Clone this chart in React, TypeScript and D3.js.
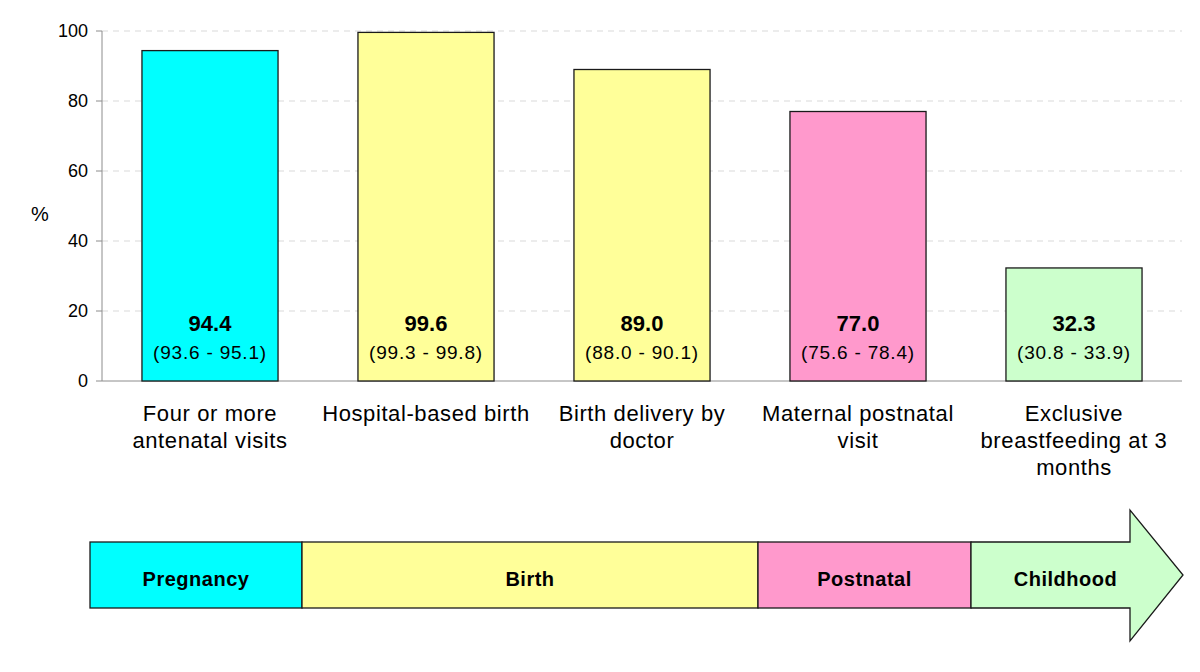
import React from "react";
import * as d3 from "d3";

const categories = [
  ["Four or more", "antenatal visits"],
  ["Hospital-based birth"],
  ["Birth delivery by", "doctor"],
  ["Maternal postnatal", "visit"],
  ["Exclusive", "breastfeeding at 3", "months"],
];
const values = [94.4, 99.6, 89.0, 77.0, 32.3];
const ciLow = [93.6, 99.3, 88.0, 75.6, 30.8];
const ciHigh = [95.1, 99.8, 90.1, 78.4, 33.9];
const barColors = ["#00FFFF", "#FFFF99", "#FFFF99", "#FF99CC", "#CCFFCC"];
const yTicks = [0, 20, 40, 60, 80, 100];
const phases = ["Pregnancy", "Birth", "Postnatal", "Childhood"];
const phaseColors = ["#00FFFF", "#FFFF99", "#FF99CC", "#CCFFCC"];
const phaseBounds = [90, 302, 758, 971, 1130];

const FONT = "'Liberation Sans', Arial, sans-serif";

export default function App() {
  const x = d3
    .scaleBand<number>()
    .domain(d3.range(values.length))
    .range([102, 1182])
    .paddingInner(0.37)
    .paddingOuter(0.185);
  const y = d3.scaleLinear().domain([0, 100]).range([381, 31]);
  const arrowTop = 542;
  const arrowBot = 608;
  const headTop = 510;
  const headBot = 641;
  const tipX = 1183;
  const midY = (arrowTop + arrowBot) / 2;

  const arrowPath = d3.path();
  arrowPath.moveTo(phaseBounds[3], arrowTop);
  arrowPath.lineTo(phaseBounds[4], arrowTop);
  arrowPath.lineTo(phaseBounds[4], headTop);
  arrowPath.lineTo(tipX, midY);
  arrowPath.lineTo(phaseBounds[4], headBot);
  arrowPath.lineTo(phaseBounds[4], arrowBot);
  arrowPath.lineTo(phaseBounds[3], arrowBot);
  arrowPath.closePath();

  return (
    <svg
      width={1200}
      height={672}
      style={{ position: "absolute", left: 0, top: 0, background: "#fff" }}
      fontFamily={FONT}
    >
      {/* gridlines */}
      {yTicks.filter((t) => t > 0).map((t) => (
        <line
          key={"g" + t}
          x1={102}
          x2={1182}
          y1={y(t)}
          y2={y(t)}
          stroke="#d9d9d9"
          strokeDasharray="6,5"
          strokeWidth={1}
        />
      ))}
      {/* axes */}
      <line x1={102} x2={102} y1={y(100)} y2={y(0)} stroke="#8c8c8c" strokeWidth={1} />
      <line x1={102} x2={1182} y1={y(0)} y2={y(0)} stroke="#8c8c8c" strokeWidth={1} />
      {yTicks.map((t) => (
        <g key={"t" + t}>
          <line x1={96} x2={102} y1={y(t)} y2={y(t)} stroke="#8c8c8c" />
          <text
            x={88}
            y={y(t)}
            textAnchor="end"
            dominantBaseline="central"
            fontSize={18}
            fill="#000"
          >
            {t}
          </text>
        </g>
      ))}
      <text x={40} y={214} textAnchor="middle" dominantBaseline="central" fontSize={20}>
        %
      </text>
      {/* bars */}
      {values.map((v, i) => {
        const bx = x(i)!;
        const bw = x.bandwidth();
        const cx = bx + bw / 2;
        return (
          <g key={"b" + i}>
            <rect
              x={bx}
              y={y(v)}
              width={bw}
              height={y(0) - y(v)}
              fill={barColors[i]}
              stroke="#1a1a1a"
              strokeWidth={1.3}
            />
            <text
              x={cx}
              y={323}
              textAnchor="middle"
              dominantBaseline="central"
              fontSize={22}
              fontWeight="bold"
            >
              {v.toFixed(1)}
            </text>
            <text
              x={cx}
              y={352}
              textAnchor="middle"
              dominantBaseline="central"
              fontSize={19}
              letterSpacing={0.8}
            >
              {`(${ciLow[i].toFixed(1)} - ${ciHigh[i].toFixed(1)})`}
            </text>
            {categories[i].map((line, j) => (
              <text
                key={j}
                x={cx}
                y={413 + j * 27}
                textAnchor="middle"
                dominantBaseline="central"
                fontSize={22}
                letterSpacing={0.6}
              >
                {line}
              </text>
            ))}
          </g>
        );
      })}
      {/* phase arrow */}
      {phases.slice(0, 3).map((p, i) => (
        <rect
          key={"p" + i}
          x={phaseBounds[i]}
          y={arrowTop}
          width={phaseBounds[i + 1] - phaseBounds[i]}
          height={arrowBot - arrowTop}
          fill={phaseColors[i]}
          stroke="#1a1a1a"
          strokeWidth={1.3}
        />
      ))}
      <path d={arrowPath.toString()} fill={phaseColors[3]} stroke="#1a1a1a" strokeWidth={1.3} />
      {phases.map((p, i) => {
        const cx =
          i < 3
            ? (phaseBounds[i] + phaseBounds[i + 1]) / 2
            : (phaseBounds[3] + phaseBounds[4]) / 2 + 15;
        return (
          <text
            key={"pl" + i}
            x={cx}
            y={579}
            textAnchor="middle"
            dominantBaseline="central"
            fontSize={20}
            fontWeight="bold"
            letterSpacing={0.5}
          >
            {p}
          </text>
        );
      })}
    </svg>
  );
}
